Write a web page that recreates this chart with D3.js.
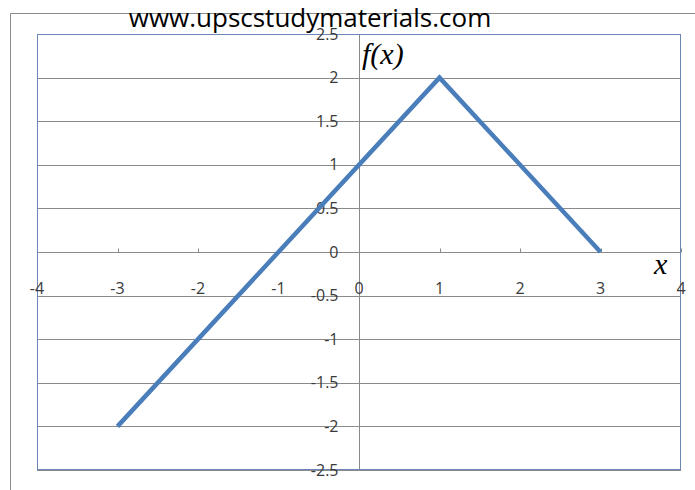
<!DOCTYPE html>
<html lang="en">
<head>
<meta charset="UTF-8">
<title>f(x)</title>
<style>
    body { margin: 0; background: #fff; }
    .tick-label { font-family: "Open Sans", sans-serif; font-size: 16px; fill: #3a3a3a; }
</style>
</head>
<body>
<svg width="695" height="490"></svg>
<script src="https://cdn.jsdelivr.net/npm/d3@7"></script>
<script>
(function () {
    'use strict';

    // data
    var xValues = [-3, 1, 3];
    var yValues = [-2, 2, 0];
    var xTicks = [-4, -3, -2, -1, 0, 1, 2, 3, 4];
    var yTicks = [-2.5, -2, -1.5, -1, -0.5, 0, 0.5, 1, 1.5, 2, 2.5];
    var titleText = "www.upscstudymaterials.com";

    var svg = d3.select("svg");

    var left = 37, right = 681, top = 34, bottom = 470;

    var x = d3.scaleLinear().domain([-4, 4]).range([left, right]);
    var y = d3.scaleLinear().domain([-2.5, 2.5]).range([bottom, top]);

    // outer chart frame
    svg.append("path")
        .attr("d", "M10.5,490 V13.5 H695")
        .attr("fill", "none")
        .attr("stroke", "#8c8c8c")
        .attr("stroke-width", 1);

    // horizontal gridlines
    svg.append("g").selectAll("line")
        .data(yTicks)
        .enter().append("line")
        .attr("x1", left).attr("x2", right)
        .attr("y1", function (d) { return Math.round(y(d)) + 0.5; })
        .attr("y2", function (d) { return Math.round(y(d)) + 0.5; })
        .attr("stroke", "#8a8a8a")
        .attr("stroke-width", 1);

    // y axis at x = 0
    var x0 = Math.round(x(0)) + 0.5;
    svg.append("line")
        .attr("x1", x0).attr("x2", x0)
        .attr("y1", top).attr("y2", bottom)
        .attr("stroke", "#8a8a8a");

    // y axis tick marks
    svg.append("g").selectAll("line")
        .data(yTicks)
        .enter().append("line")
        .attr("x1", x0 - 5).attr("x2", x0)
        .attr("y1", function (d) { return Math.round(y(d)) + 0.5; })
        .attr("y2", function (d) { return Math.round(y(d)) + 0.5; })
        .attr("stroke", "#8a8a8a");

    // x axis tick marks on zero line
    var y0 = Math.round(y(0)) + 0.5;
    svg.append("g").selectAll("line")
        .data(xTicks)
        .enter().append("line")
        .attr("x1", function (d) { return Math.round(x(d)) + 0.5; })
        .attr("x2", function (d) { return Math.round(x(d)) + 0.5; })
        .attr("y1", y0 - 4).attr("y2", y0)
        .attr("stroke", "#8a8a8a");

    // plot area border
    svg.append("rect")
        .attr("x", left + 0.5).attr("y", top + 0.5)
        .attr("width", right - left - 1).attr("height", bottom - top - 1)
        .attr("fill", "none")
        .attr("stroke", "#6d86b8")
        .attr("stroke-width", 1);

    // y tick labels
    svg.append("g").selectAll("text")
        .data(yTicks)
        .enter().append("text")
        .attr("class", "tick-label")
        .attr("x", x0 - 21)
        .attr("y", function (d) { return y(d); })
        .attr("dy", "0.35em")
        .attr("text-anchor", "end")
        .text(function (d) { return d; });

    // x tick labels
    svg.append("g").selectAll("text")
        .data(xTicks)
        .enter().append("text")
        .attr("class", "tick-label")
        .attr("x", function (d) { return x(d); })
        .attr("y", 294)
        .attr("text-anchor", "middle")
        .text(function (d) { return d; });

    // data line
    var pts = xValues.map(function (d, i) { return [d, yValues[i]]; });
    svg.append("path")
        .datum(pts)
        .attr("d", d3.line()
            .x(function (d) { return x(d[0]); })
            .y(function (d) { return y(d[1]); }))
        .attr("fill", "none")
        .attr("stroke", "#4a7ebb")
        .attr("stroke-width", 4.5)
        .attr("stroke-linejoin", "miter");

    // title
    svg.append("text")
        .attr("x", 310)
        .attr("y", 27)
        .attr("text-anchor", "middle")
        .attr("font-family", "Open Sans, sans-serif")
        .attr("font-size", "26px")
        .attr("fill", "#000")
        .text(titleText);

    // axis names
    svg.append("text")
        .attr("x", 362)
        .attr("y", 64)
        .attr("font-family", "Liberation Serif, serif")
        .attr("font-style", "italic")
        .attr("font-size", "30px")
        .text("f(x)");

    svg.append("text")
        .attr("x", 654)
        .attr("y", 274)
        .attr("font-family", "Liberation Serif, serif")
        .attr("font-style", "italic")
        .attr("font-size", "30px")
        .text("x");
})();
</script>
</body>
</html>
